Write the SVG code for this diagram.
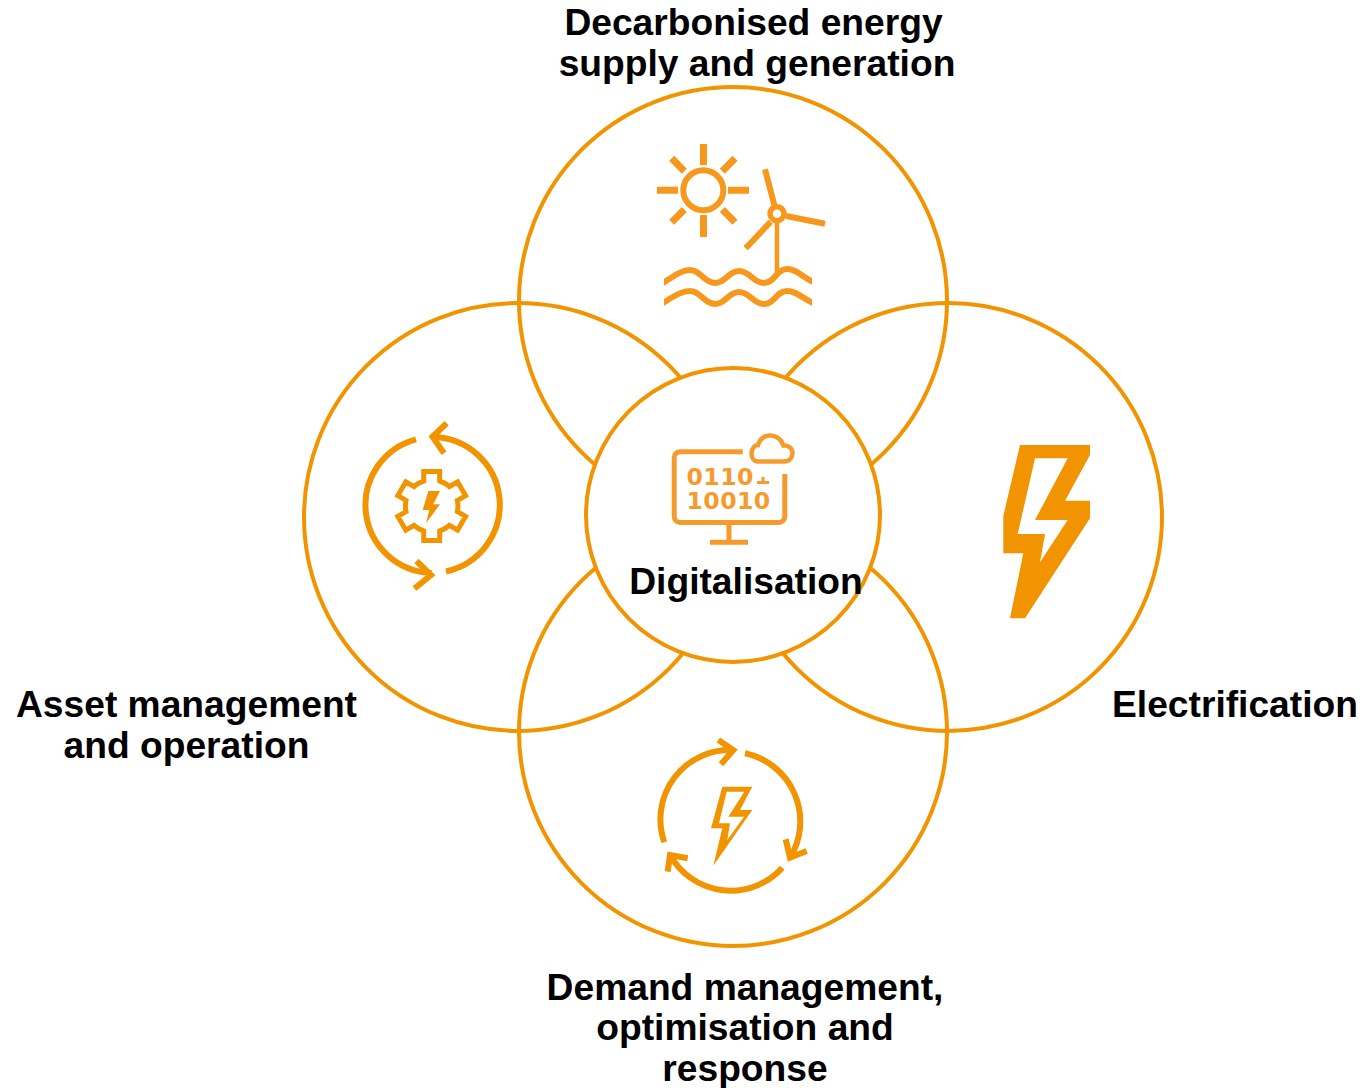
<svg xmlns="http://www.w3.org/2000/svg" width="1362" height="1088" viewBox="0 0 1362 1088">
<style>
.ring{fill:none;stroke:#f29400;stroke-width:4}
.core{fill:#fff;stroke:#f29400;stroke-width:4}
.label{font-family:"Liberation Sans",Arial,sans-serif;font-weight:700;font-size:37.2px;fill:#000;text-anchor:middle}
.ln{fill:none;stroke:#f29400;stroke-width:6}
.sun{fill:none;stroke:#f7981d;stroke-width:7}
.mon{fill:none;stroke:#f79a2e;stroke-width:5}
.f{fill:#f29400;fill-rule:evenodd}
.bits{font-family:"DejaVu Sans",sans-serif;font-weight:700;font-size:23.6px;letter-spacing:.4px;fill:#f79a2e}
</style>
<defs><clipPath id="waveclip"><rect x="664" y="260" width="148" height="50"/></clipPath></defs>
<rect width="1362" height="1088" fill="#fff"/>
<g id="circles">
<circle class="ring" cx="733" cy="301" r="214"/>
<circle class="ring" cx="518" cy="517" r="214"/>
<circle class="ring" cx="948" cy="517" r="214"/>
<circle class="ring" cx="733" cy="732" r="214"/>
</g>
<g id="node-supply">
<text class="label" x="753.500" y="34.500">Decarbonised energy</text>
<text class="label" x="757" y="75.500">supply and generation</text>
<g>
<circle class="sun" style="stroke-width:6" cx="703.300" cy="190.300" r="20"/>
<path class="sun" d="M703.500 144V165M703.500 215V237M657 190.300H678M728 190.300H749M671.700 158.300L684.300 171.200M735 158.300L722.300 171.200M671.700 222.300L684.300 209.500M735 222.300L722.300 209.500"/>
<circle class="sun" style="stroke-width:5.500" cx="777" cy="213.700" r="7"/>
<path class="sun" style="stroke-width:6" d="M765 169.300L774.300 205M825 223.700L786 216M745.700 248.300L770.700 221.700"/>
<path class="sun" style="stroke-width:4.500" d="M777 222V275"/>
<g clip-path="url(#waveclip)">
<path class="sun" style="stroke-width:6" d="M656 287C672 278 680 270 690 270C701 270 704 283 715 283C726 283 728 271 739 271C750 271 753 283 764 283C775 283 776 269 787 269C798 269 803 279 820 285"/>
<path class="sun" style="stroke-width:6" d="M656 307C672 298 680 291 690 291C701 291 704 304 715 304C726 304 728 292 739 292C750 292 753 304 764 304C775 304 776 291 787 291C798 291 803 300 820 306"/>
</g>
</g>
</g>
<g id="node-asset">
<text class="label" x="186.500" y="717">Asset management</text>
<text class="label" x="186.500" y="758">and operation</text>
<path class="ln" d="M416 439.300A68 68 0 0 0 431.700 573M416.500 561L431 575L414.500 588.500"/>
<path class="ln" d="M446 571.500A68 68 0 0 0 432.500 437M446.700 423.300L432.500 436.700L444 453.300"/>
<path class="ln" style="stroke-width:5" transform="translate(431.700 506)" d="M-8 -25V-34.500H8V-25A26 26 0 0 1 17.650 -19.430L25.880 -24.180L33.880 -10.320L25.650 -5.570A26 26 0 0 1 25.650 5.570L33.880 10.320L25.880 24.180L17.650 19.430A26 26 0 0 1 8 25V34.500H-8V25A26 26 0 0 1 -17.650 19.430L-25.880 24.180L-33.880 10.320L-25.650 5.570A26 26 0 0 1 -25.650 -5.570L-33.880 -10.320L-25.880 -24.180L-17.650 -19.430A26 26 0 0 1 -8 -25Z"/>
<path class="f" d="M428.300 491H440L433.300 504.300H440L426 523.300L429.300 510H422.700Z"/>
</g>
<g id="node-electrification">
<text class="label" x="1235" y="717">Electrification</text>
<path class="f" d="M1020 445H1090V455L1065 500.700H1090V518.300L1025 618.300H1010L1023.300 553.300H1003.300V516ZM1035 458.300L1017.700 534H1045L1040 562.300L1067.700 520H1035L1067.700 458.300Z"/>
</g>
<g id="node-demand">
<text class="label" x="745" y="1000">Demand management,</text>
<text class="label" x="745" y="1040">optimisation and</text>
<text class="label" x="745" y="1081">response</text>
<path class="ln" d="M664.300 842.300A69.500 69.500 0 0 1 733.300 750M718.300 740L733.300 750L721 764.300"/>
<path class="ln" d="M745 753.300A69.500 69.500 0 0 1 790 857.700M785.700 839.300L790 857.700L806.700 851"/>
<path class="ln" d="M782.300 867.700A69.500 69.500 0 0 1 670 855M667.700 871.700L670 855L687.700 858.300"/>
<path class="f" d="M722.300 786.700H752.300L740 810H752.300L713.300 865.700L722.300 828.300H711ZM726.700 791.700L719 823.300H730L727.300 840L744 816.700H728.300L744.300 791.700Z"/>
</g>
<g id="node-digitalisation">
<circle class="core" cx="733" cy="515" r="147"/>
<text class="label" x="746" y="594">Digitalisation</text>
<path class="mon" d="M742.700 451.800H680.200A6 6 0 0 0 674.200 457.800V516.500A6 6 0 0 0 680.200 522.500H778.800A6 6 0 0 0 784.800 516.500V474M729 522V543M710 542.300H748"/>
<path class="mon" style="stroke-width:4.500" d="M758 461.500H784C790 461.500 792.500 457 792.500 453C792.500 448 788 445 783.500 445.500C781 438.500 775 435 769 435.500C763 436 759 440.500 758 445C755 444.500 751.500 449 751.500 453.500C751.500 458 754 461.500 758 461.500Z"/>
<text class="bits"><tspan x="686.500" y="484.500">0110</tspan><tspan x="686.500" y="508.500">10010</tspan></text>
<path class="mon" style="stroke-width:3" d="M757 482.500H769M763 477V482"/>
</g>
</svg>
